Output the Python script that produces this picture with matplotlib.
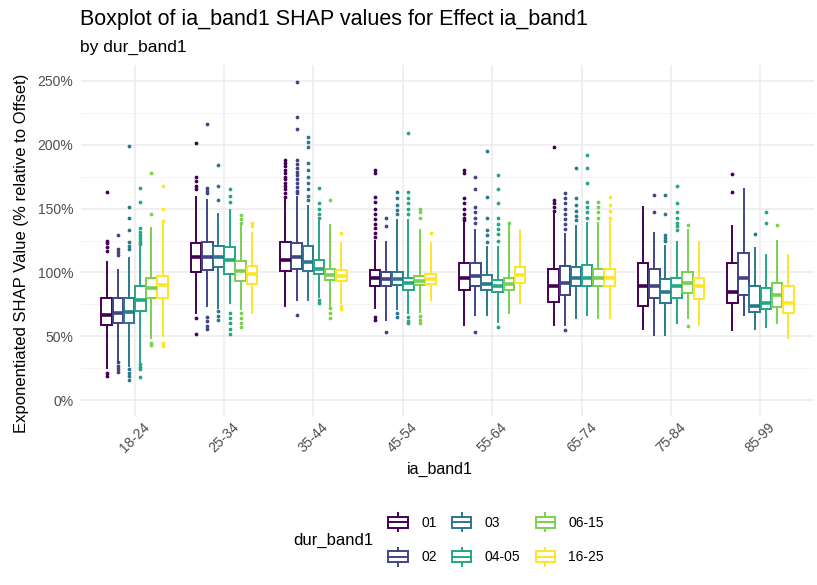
import matplotlib
matplotlib.use("Agg")
import matplotlib.pyplot as plt
from matplotlib.legend_handler import HandlerBase
from matplotlib.patches import Rectangle, Patch
from matplotlib.lines import Line2D
from matplotlib.ticker import FixedLocator

plt.rcParams['font.family'] = ['Liberation Sans', 'DejaVu Sans']

ia_bands = ['18-24', '25-34', '35-44', '45-54', '55-64', '65-74', '75-84', '85-99']
dur_bands = ['01', '02', '03', '04-05', '06-15', '16-25']
colors = ['#440154', '#414487', '#2A788E', '#22A884', '#7AD151', '#FDE725']

# box stats in % (rows = ia_band, cols = dur_band)
whis_lo = [
    [25, 31, 27, 30, 49, 50],
    [68, 74, 72, 76, 71, 68],
    [74, 78, 78, 81, 73, 76],
    [72, 63, 71, 68, 69, 78],
    [59, 67, 67, 61, 68, 76],
    [59, 59, 64, 67, 64, 64],
    [56, 51, 51, 60, 64, 59],
    [55, 67, 56, 57, 60, 49],
]
q1 = [
    [59, 60, 60, 70, 80, 80],
    [100, 102, 104, 99, 93, 91],
    [101, 103, 101, 99, 94, 93],
    [89, 89, 90, 86, 90, 91],
    [86, 89, 86, 85, 86, 92],
    [77, 82, 89, 89, 89, 89],
    [74, 80, 76, 80, 84, 79],
    [76, 82, 69, 71, 73, 68],
]
med = [
    [67, 68, 69, 78, 88, 90],
    [112, 112, 112, 110, 101, 99],
    [110, 112, 108, 103, 98, 97],
    [96, 95, 95, 92, 93, 95],
    [96, 97, 91, 89, 91, 98],
    [89, 92, 96, 96, 96, 96],
    [89, 89, 85, 89, 92, 89],
    [85, 96, 74, 76, 82, 76],
]
q3 = [
    [80, 80, 80, 89, 96, 97],
    [123, 124, 121, 120, 109, 105],
    [124, 123, 121, 110, 103, 102],
    [102, 100, 100, 96, 97, 99],
    [107, 107, 98, 94, 96, 104],
    [103, 105, 104, 106, 103, 103],
    [107, 103, 95, 96, 100, 96],
    [107, 115, 89, 88, 92, 89],
]
whis_hi = [
    [108, 102, 111, 120, 135, 138],
    [159, 157, 146, 149, 136, 131],
    [157, 159, 152, 141, 137, 123],
    [125, 124, 141, 141, 133, 123],
    [139, 133, 120, 120, 136, 133],
    [146, 130, 136, 139, 139, 141],
    [151, 131, 121, 124, 133, 124],
    [136, 165, 119, 114, 125, 114],
]
outliers = [
    [[163, 125, 123, 120, 117, 21, 19],
     [129, 118, 116, 114, 30, 27, 24, 22],
     [199, 151, 143, 133, 124, 121, 118, 24, 21, 19, 16],
     [166, 155, 135, 132, 129, 127, 125, 123, 122, 28, 26, 24, 18],
     [178, 146, 45, 43],
     [168, 150, 140, 45, 42]],
    [[201, 175, 172, 168, 165, 64, 52],
     [216, 166, 164, 162, 65, 62, 58, 56],
     [184, 168, 157, 70, 66, 63],
     [165, 160, 155, 68, 64, 60, 56, 52],
     [145, 142, 139, 68, 64, 60, 57],
     [139, 136]],
    [[188, 186, 183, 180, 178, 175, 173, 170, 168, 165, 162, 159],
     [249, 222, 212, 188, 185, 182, 179, 176, 173, 170, 167, 164, 162, 67],
     [206, 202, 198, 186, 180, 175, 170, 165, 160, 157],
     [166, 154, 150, 146, 143, 78, 76],
     [157, 72, 68, 64],
     [131, 74, 71]],
    [[180, 178, 159, 155, 150, 146, 142, 138, 135, 131, 128, 65, 63],
     [143, 136, 53],
     [163, 158, 153, 149, 146, 68, 65],
     [209, 163, 158, 154, 150, 146, 65, 62, 60],
     [150, 147, 143, 66, 63, 60],
     [131]],
    [[180, 178, 158, 154, 150, 146, 143, 141],
     [175, 165, 151, 147, 143, 139, 53],
     [195, 159, 143, 133, 129, 124],
     [176, 165, 154, 143, 138, 134, 130, 125, 57],
     [139],
     []],
    [[198, 157, 154, 151, 148],
     [162, 158, 154, 150, 146, 142, 138, 134, 55],
     [182, 158, 153, 148, 144, 141],
     [192, 182, 170, 155, 151, 147, 143],
     [155, 151, 147, 143],
     [159, 153, 148, 143]],
    [[],
     [161, 147],
     [161, 146, 129, 127, 125],
     [168, 154, 147, 143, 139, 136, 133],
     [137, 58],
     []],
    [[177, 163],
     [],
     [130],
     [147, 139],
     [137],
     []],
]

W, H = 817, 585
fig = plt.figure(figsize=(W / 100, H / 100), dpi=100)
ax = fig.add_axes([81 / W, 1 - 416 / H, (814 - 81) / W, (416 - 65) / H])

n_dur = len(dur_bands)
bw = 0.75 / n_dur
for j, c in enumerate(colors):
    stats = []
    pos = []
    for i in range(len(ia_bands)):
        stats.append(dict(whislo=whis_lo[i][j], q1=q1[i][j], med=med[i][j],
                          q3=q3[i][j], whishi=whis_hi[i][j], fliers=outliers[i][j]))
        pos.append(i + 1 + (j - (n_dur - 1) / 2) * bw)
    ax.bxp(stats, positions=pos, widths=bw * 0.95, patch_artist=True,
           showcaps=False, manage_ticks=False,
           boxprops=dict(facecolor='white', edgecolor=c, linewidth=1.4),
           whiskerprops=dict(color=c, linewidth=1.4),
           medianprops=dict(color=c, linewidth=2.6, solid_capstyle='butt'),
           flierprops=dict(marker='o', markersize=1.7, markerfacecolor=c,
                           markeredgecolor=c, linestyle='none'),
           zorder=3)

ax.set_xlim(0.4, len(ia_bands) + 0.6)
ax.set_ylim(-12.5, 262.5)
ax.set_xticks(range(1, len(ia_bands) + 1))
ax.set_xticklabels(ia_bands, rotation=45, ha='center', va='top')
ax.set_yticks([0, 50, 100, 150, 200, 250])
ax.set_yticklabels(['0%', '50%', '100%', '150%', '200%', '250%'])
ax.yaxis.set_minor_locator(FixedLocator([25, 75, 125, 175, 225]))
ax.tick_params(axis='both', which='both', length=0, labelsize=10, colors='#4D4D4D')
ax.tick_params(axis='y', pad=5.5)
ax.tick_params(axis='x', pad=3)
ax.grid(True, which='major', color='#EBEBEB', linewidth=1.1, zorder=0)
ax.grid(True, which='minor', axis='y', color='#F2F2F2', linewidth=0.6, zorder=0)
ax.set_axisbelow(True)
for s in ax.spines.values():
    s.set_visible(False)

ax.set_xlabel('ia_band1', fontsize=11.5)
ax.set_ylabel('Exponentiated SHAP Value (% relative to Offset)', fontsize=12)
ax.xaxis.set_label_coords((440 - 81) / 733, (416 - 469) / 351, transform=ax.transAxes)
ax.yaxis.set_label_coords((22 - 81) / 733, (416 - 253) / 351, transform=ax.transAxes)
ax.xaxis.label.set_va('center')
ax.yaxis.label.set_va('center')

fig.text(80 / W, 1 - 20 / H, 'Boxplot of ia_band1 SHAP values for Effect ia_band1',
         fontsize=15.5, va='center', ha='left')
fig.text(80 / W, 1 - 47 / H, 'by dur_band1', fontsize=12.5, va='center', ha='left')


class BoxHandler(HandlerBase):
    def create_artists(self, legend, orig_handle, xdescent, ydescent, width, height, fontsize, trans):
        c = orig_handle.get_edgecolor()
        x0, y0 = -xdescent, -ydescent
        w = width * 0.8
        bx = x0 + (width - w) / 2
        rect = Rectangle((bx, y0 + height * 0.2), w, height * 0.6, facecolor='white',
                         edgecolor=c, linewidth=1.4, transform=trans)
        mline = Line2D([bx, bx + w], [y0 + height / 2] * 2, color=c, linewidth=1.4, transform=trans)
        cx = x0 + width / 2
        wt = Line2D([cx, cx], [y0 + height * 0.8, y0 + height], color=c, linewidth=1.4, transform=trans)
        wb = Line2D([cx, cx], [y0, y0 + height * 0.2], color=c, linewidth=1.4, transform=trans)
        return [rect, mline, wt, wb]


handles = [Patch(facecolor='white', edgecolor=c) for c in colors]
fig.legend(handles, dur_bands, handler_map={Patch: BoxHandler()}, ncol=3,
           loc='center left', bbox_to_anchor=(386 / W, 1 - 539.5 / H),
           frameon=False, fontsize=10, handlelength=1.75, handleheight=1.6,
           handletextpad=0.8, labelspacing=1.2, columnspacing=0.9,
           borderpad=0, borderaxespad=0)
fig.text(293 / W, 1 - 540 / H, 'dur_band1', fontsize=12, va='center', ha='left')

fig.savefig('out.png', dpi=100)
